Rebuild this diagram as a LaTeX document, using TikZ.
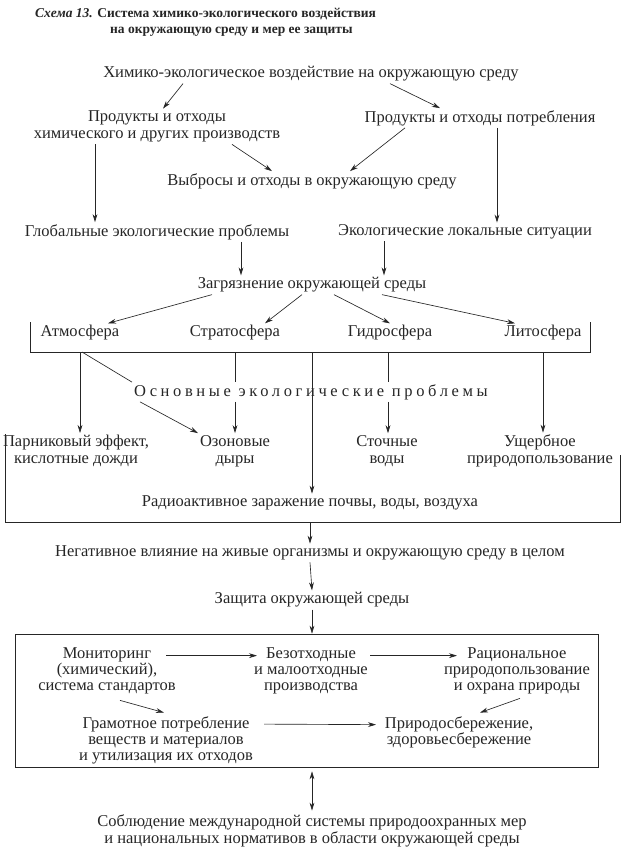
\documentclass[tikz,border=0pt]{standalone}
\usepackage{fontspec}
\setmainfont{Liberation Serif}
\usetikzlibrary{arrows.meta,calc}
\definecolor{ink}{HTML}{262626}
\newcommand{\spc}[1]{{\addfontfeature{LetterSpace=22}#1}}
\begin{document}
\begin{tikzpicture}[x=1pt,y=-1pt,
  every node/.style={font=\fontsize{16.5}{17}\selectfont, text=ink, inner sep=2pt, align=center},
  boxtxt/.style={font=\fontsize{16.5}{16}\selectfont},
  arr/.style={-{Stealth[length=8pt,width=4.8pt]}, draw=ink, line width=0.65pt},
  ln/.style={draw=ink, line width=0.65pt},
  dblarr/.style={{Stealth[length=8pt,width=4.8pt]}-{Stealth[length=8pt,width=4.8pt]}, draw=ink, line width=0.65pt},
  ttl/.style={anchor=west, font=\fontsize{13.5}{16}\selectfont\bfseries}]
\useasboundingbox[fill=white] (0,0) rectangle (625,855);

% title
\node[ttl] (t1) at (33,14) {\textit{Схема 13.} Система химико-экологического воздействия};
\node[ttl] (t2) at (108,32) {на окружающую среду и мер ее защиты};

% upper chain
\node (A) at (311,74) {Химико-экологическое воздействие на окружающую среду};
\node (B1) at (157,126.5) {Продукты и отходы\\химического и других производств};
\node (B2) at (480,118) {Продукты и отходы потребления};
\node (C) at (312,181) {Выбросы и отходы в окружающую среду};
\node (D1) at (157,232) {Глобальные экологические проблемы};
\node (D2) at (465,232) {Экологические локальные ситуации};
\node (E) at (312,285) {Загрязнение окружающей среды};

\node (atm) at (80,333) {Атмосфера};
\node (strat) at (235,333) {Стратосфера};
\node (hydro) at (390,333) {Гидросфера};
\node (litho) at (543,333) {Литосфера};

\node (osn) at (311,392) {\spc{Основные экологические проблемы}};

\node (park) at (76,451) {Парниковый эффект,\\кислотные дожди};
\node (ozon) at (235,451) {Озоновые\\дыры};
\node (stoch) at (387,451) {Сточные\\воды};
\node (usch) at (540,451) {Ущербное\\природопользование};
\node (rad) at (310,503) {Радиоактивное заражение почвы, воды, воздуха};

\node (neg) at (310,553) {Негативное влияние на живые организмы и окружающую среду в целом};
\node (zash) at (312,600) {Защита окружающей среды};

\node[draw=ink, line width=0.65pt, minimum width=583pt, minimum height=133pt, inner sep=0pt] (box3) at (306.5,700.5) {};
\node[boxtxt] (mon) at (107,671) {Мониторинг\\(химический),\\система стандартов};
\node[boxtxt] (bez) at (311,671) {Безотходные\\и малоотходные\\производства};
\node[boxtxt] (rac) at (517,671) {Рациональное\\природопользование\\и охрана природы};
\node[boxtxt] (gram) at (166,740) {Грамотное потребление\\веществ и материалов\\и утилизация их отходов};
\node[boxtxt] (prir) at (459,732.5) {Природосбережение,\\здоровьесбережение};

\node (sobl) at (312,831) {Соблюдение международной системы природоохранных мер\\и национальных нормативов в области окружающей среды};

% brackets
\coordinate (br1tl) at (30,322);
\coordinate (br1bl) at (30,352);
\coordinate (br1br) at (590,352);
\coordinate (br1tr) at (590,322);
\draw[ln] (br1tl) -- (br1bl) -- (br1br) -- (br1tr);
\coordinate (br2tl) at (5,434);
\coordinate (br2bl) at (5,522);
\coordinate (br2br) at (620,522);
\coordinate (br2tr) at (620,455);
\draw[ln] (br2tl) -- (br2bl) -- (br2br) -- (br2tr);

% arrows upper
\draw[arr] (A.south -| 183,0) -- (B1.north -| 163,0);
\draw[arr] (A.south -| 390,0) -- (B2.north -| 440,0);
\draw[arr] (B1.south -| 232,0) -- (C.north -| 272,0);
\draw[arr] (B2.south -| 405,0) -- (C.north -| 350,0);
\draw[arr] (B1.south -| 95,0) -- (D1.north -| 95,0);
\draw[arr] (B2.south -| 497,0) -- (D2.north -| 497,0);
\draw[arr] (D1.south -| 241,0) -- (E.north -| 241,0);
\draw[arr] (D2.south -| 384,0) -- (E.north -| 384,0);
\draw[arr] (E.south -| 212,0) -- (atm.north -| 108,0);
\draw[arr] (E.south -| 302,0) -- (strat.north -| 265,0);
\draw[arr] (E.south -| 334,0) -- (hydro.north -| 390,0);
\draw[arr] (E.south -| 382,0) -- (litho.north -| 515,0);

% from spheres
\draw[arr] (br1bl -| 80,0) -- (park.north -| 80,0);
\draw[ln] (br1bl -| 235,0) -- (osn.north -| 235,0);
\draw[arr] (osn.south -| 235,0) -- (ozon.north);
\draw[arr] (br1bl -| 312,0) -- (rad.north -| 312,0);
\draw[ln] (br1bl -| 388,0) -- (osn.north -| 388,0);
\draw[arr] (osn.south -| 388,0) -- (stoch.north -| 388,0);
\draw[arr] (br1bl -| 543,0) -- (usch.north -| 543,0);
\draw[ln] (br1bl -| 82,0) -- (osn.north west);
\draw[arr] ($(osn.south west)+(8,0)$) -- (ozon.north west);

% lower chain
\draw[arr] (br2bl -| neg) -- (neg.north);
\draw[arr] (neg.south) -- (zash.north);
\draw[arr] (zash.south) -- (box3.north -| zash);

% inside box
\draw[arr] ($(mon.north -| 166,0)+(0,10)$) -- ($(bez.north -| 257,0)+(0,10)$);
\draw[arr] ($(bez.north -| 370,0)+(0,10)$) -- ($(rac.north -| 457,0)+(0,10)$);
\draw[arr] ($(mon.south -| 120,0)+(0,4)$) -- ($(gram.north -| 164,0)+(0,-1.5)$);
\draw[arr] ($(rac.south -| 520,0)+(0,2)$) -- ($(prir.north -| 480,0)+(0,-2)$);
\draw[arr] ($(gram.north -| 264,0)+(0,10)$) -- ($(prir.north -| 376,0)+(0,10)$);

\draw[dblarr, shorten >=2pt, shorten <=4pt] (box3.south -| 312,0) -- (sobl.north -| 312,0);
\end{tikzpicture}
\end{document}
